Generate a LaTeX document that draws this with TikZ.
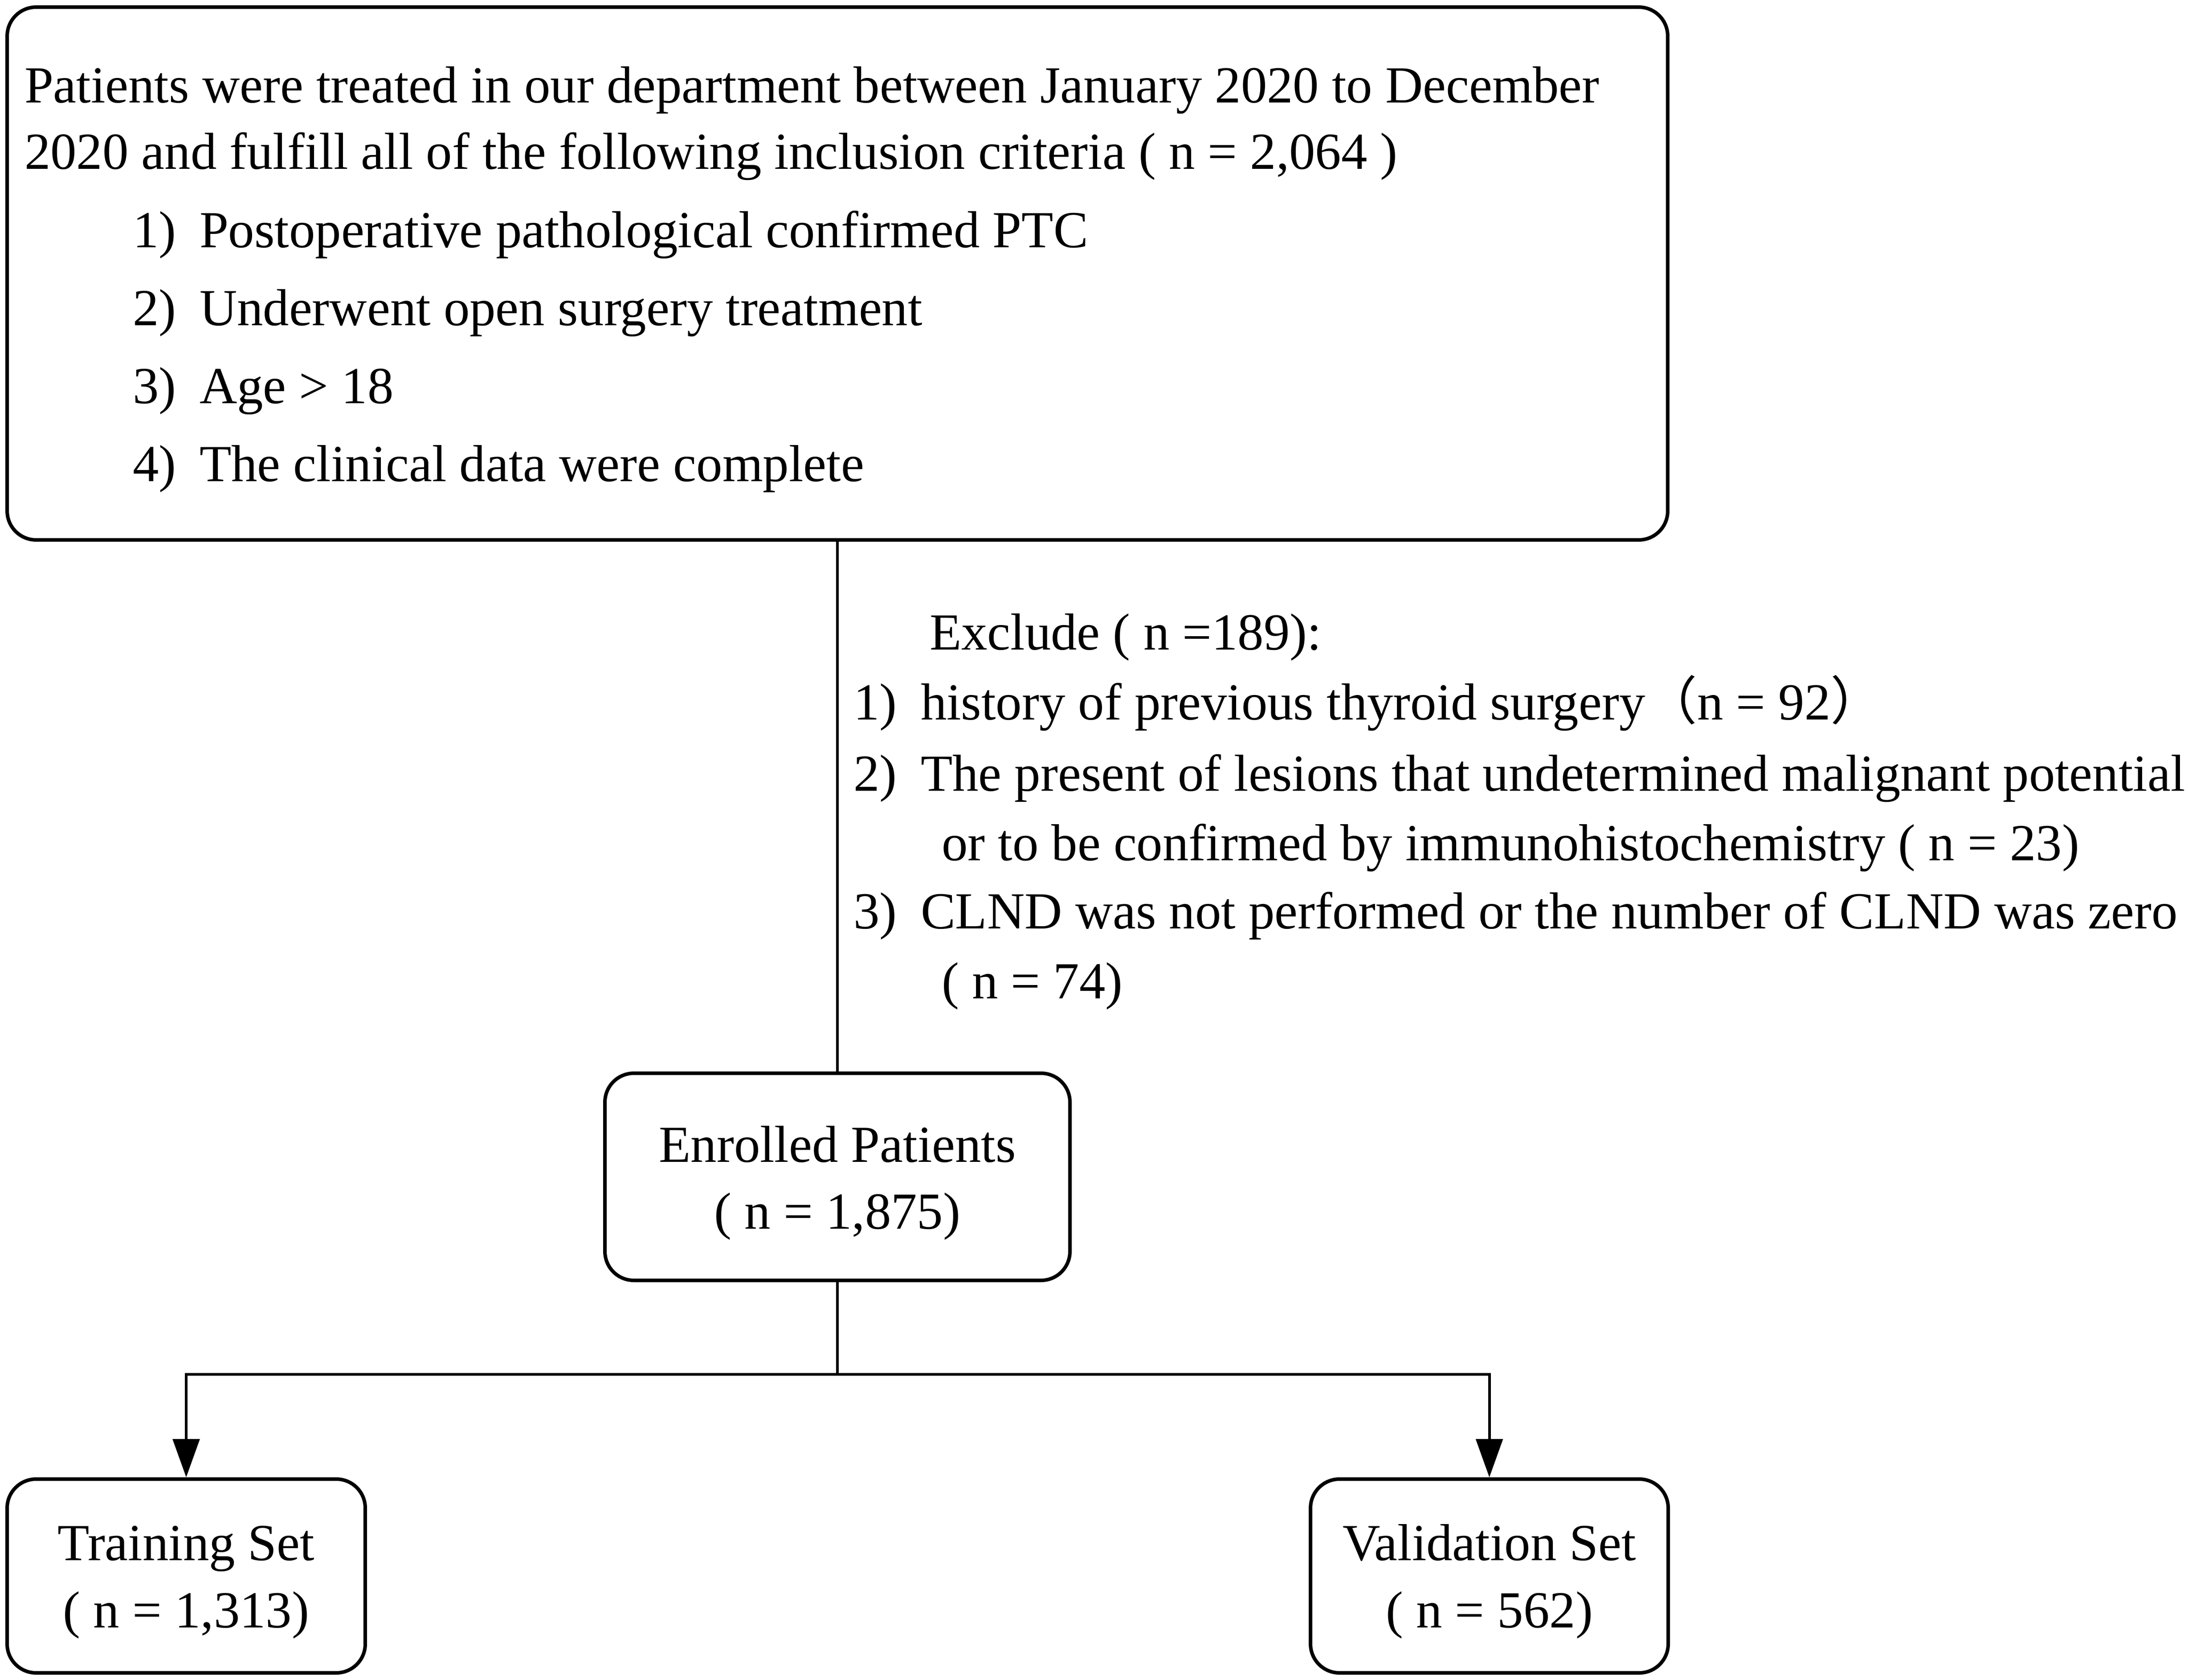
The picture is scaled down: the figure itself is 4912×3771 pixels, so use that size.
\documentclass[tikz,border=0pt]{standalone}
\usepackage{fontspec}
\setmainfont{Liberation Serif}
\newfontfamily\cjk{Noto Sans CJK SC}
\usetikzlibrary{arrows.meta}
\tikzset{
  boxshape/.style={draw=black, line width=0.8pt, rounded corners=6.5pt, inner sep=0pt, fill=white},
  txt/.style={inner sep=0pt, anchor=base west, font=\fontsize{11.68}{15}\selectfont},
  ctxt/.style={inner sep=0pt, anchor=base, font=\fontsize{11.68}{15}\selectfont},
  conn/.style={line width=0.6pt, draw=black},
  arr/.style={conn, -{Triangle[length=8.6pt,width=6pt]}}
}
\begin{document}
\begin{tikzpicture}[x=0.1pt,y=-0.1pt]
\useasboundingbox (0,0) rectangle (4912,3771);
% boxes
\node[boxshape, minimum width=372.8pt, minimum height=119.6pt] (top) at (1880,614) {};
\node[boxshape, minimum width=104.4pt, minimum height=46.5pt] (enr) at (1880,2641.5) {};
\node[boxshape, minimum width=80.4pt, minimum height=43.5pt] (train) at (418,3537.5) {};
\node[boxshape, minimum width=80.3pt, minimum height=43.5pt] (val) at (3343.5,3537.5) {};
% top box text
\node[txt] (t1) at (53,231) {Patients were treated in our department between January 2020 to December};
\node[txt] (t2) at (53,380) {2020 and fulfill all of the following inclusion criteria ( n = 2,064 )};
\node[txt] (n1) at (296,556) {1)};
\node[txt] (c1) at (446,556) {Postoperative pathological confirmed PTC};
\node[txt] (n2) at (296,731) {2)};
\node[txt] (c2) at (446,731) {Underwent open surgery treatment};
\node[txt] (n3) at (296,906) {3)};
\node[txt] (c3) at (446,906) {Age > 18};
\node[txt] (n4) at (296,1081) {4)};
\node[txt] (c4) at (446,1081) {The clinical data were complete};
% exclusion text
\node[txt] (ex) at (2085,1459) {Exclude ( n =189):};
\node[txt] (e1n) at (1914,1616) {1)};
\node[txt] (e1) at (2065,1616) {history of previous thyroid surgery{\cjk （}n = 92{\cjk ）}};
\node[txt] (e2n) at (1914,1775) {2)};
\node[txt] (e2) at (2065,1775) {The present of lesions that undetermined malignant potential};
\node[txt] (e2b) at (2112,1931) {or to be confirmed by immunohistochemistry ( n = 23)};
\node[txt] (e3n) at (1914,2084) {3)};
\node[txt] (e3) at (2065,2084) {CLND was not performed or the number of CLND was zero};
\node[txt] (e3b) at (2112,2241) {( n = 74)};
% box labels
\node[ctxt] (enr1) at (1880,2608) {Enrolled Patients};
\node[ctxt] (enr2) at (1880,2758) {( n = 1,875)};
\node[ctxt] (tr1) at (418,3502) {Training Set};
\node[ctxt] (tr2) at (418,3653) {( n = 1,313)};
\node[ctxt] (va1) at (3343.5,3502) {Validation Set};
\node[ctxt] (va2) at (3343.5,3653) {( n = 562)};
% connectors
\coordinate (split) at (1880,3085);
\draw[conn] (top.south) -- (enr.north);
\draw[conn] (enr.south) -- (split);
\draw[arr] (split) -| (train.north);
\draw[arr] (split) -| (val.north);
\end{tikzpicture}
\end{document}
